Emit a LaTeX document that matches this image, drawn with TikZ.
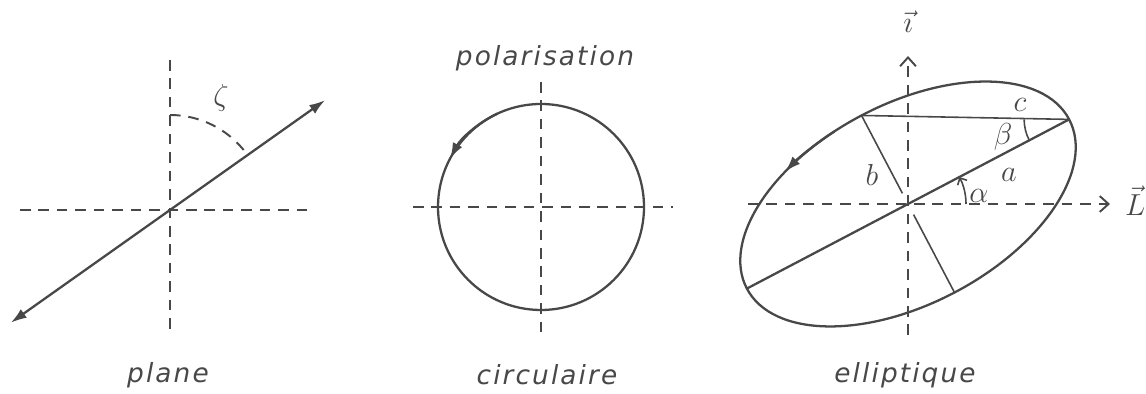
\documentclass[tikz,border=0pt]{standalone}
\usepackage{fontspec}
\usepackage{amsmath}
\usetikzlibrary{calc,arrows.meta,positioning}
\newfontfamily\handFont[LetterSpace=8]{DejaVu Sans}
\definecolor{inkGray}{RGB}{72,72,72}

\begin{document}
\begin{tikzpicture}[x=0.02cm,y=0.02cm,
  axisline/.style={draw=inkGray,line width=1.1pt,dash pattern=on 6pt off 4.5pt},
  curveline/.style={draw=inkGray,line width=1.3pt},
  thinline/.style={draw=inkGray,line width=0.9pt},
  caption/.style={font=\handFont\itshape\fontsize{15}{17}\selectfont,text=inkGray},
  symb/.style={font=\fontsize{18}{20}\selectfont,text=inkGray}]
\useasboundingbox (0,0) rectangle (1146,394);

% plane
\coordinate (O1) at (170,184);
\draw[axisline] (170,334) -- (170,62);
\draw[axisline] (20,184) -- (313,184);
\draw[curveline,{Latex[length=9pt,width=6pt]}-{Latex[length=9pt,width=6pt]}] ($(O1)+(215.3:195)$) -- ($(O1)+(35.3:190)$);
\draw[axisline] ($(O1)+(90:95)$) arc (90:37:95);
\node[symb] (zeta) at (221,296) {$\zeta$};
\node[caption] (plane) at (168,19) {plane};

% circulaire
\coordinate (O2) at (541,187);
\draw[axisline] (413,187) -- (673,187);
\draw[axisline] (541,312) -- (541,59);
\draw[curveline] (O2) circle (103);
\draw[curveline,-{Latex[length=9pt,width=6pt]}] ($(O2)+(115:103)$) arc (115:152:103);
\node[caption] (polar) at (545,336) {polarisation};
\node[caption] (circ) at (547,19) {circulaire};

% elliptique
\coordinate (O3) at (908,190);
\draw[axisline,-{Straight Barb[length=5pt,width=9pt]}] (748,190) -- (1110,190);
\node[symb,anchor=west] (Lvec) at (1119,193) {$\vec{L}$};
\draw[axisline,-{Straight Barb[length=5pt,width=9pt]}] (908,59) -- (908,338);
\node[symb] (ivec) at (908,372) {$\vec{\imath}$};
\begin{scope}[shift={(O3)},rotate=27.7]
  \draw[curveline] (0,0) ellipse (182 and 100);
  \draw[curveline,-{Latex[length=9pt,width=6pt]}] (100:182 and 100) arc (100:121:182 and 100);
\end{scope}
\coordinate (Aw) at ($(O3)+(207.7:182)$);
\coordinate (Ae) at ($(O3)+(27.7:182)$);
\coordinate (Bn) at ($(O3)+(117.7:100)$);
\coordinate (Bs) at ($(O3)+(-62.3:100)$);
\draw[curveline] (Aw) -- (Ae);
\draw[thinline] (Bn) -- ($(O3)+(117.7:12)$);
\draw[thinline] ($(O3)+(-62.3:12)$) -- (Bs);
\draw[thinline] (Bn) -- (Ae);
\draw[thinline] ($(Ae)+(180:45)$) arc (180:207.7:45);
\draw[thinline,-{Straight Barb[length=3pt,width=6pt]}] ($(O3)+(0:58)$) arc (0:27.7:58);
\node[symb] (alpha) at (979,198) {$\alpha$};
\node[symb] (beta) at (1003,257) {$\beta$};
\node[symb] (a) at (1009,219) {$a$};
\node[symb] (b) at (872,219) {$b$};
\node[symb] (c) at (1020,289) {$c$};
\node[caption] (ellip) at (905,19) {elliptique};
\end{tikzpicture}
\end{document}
